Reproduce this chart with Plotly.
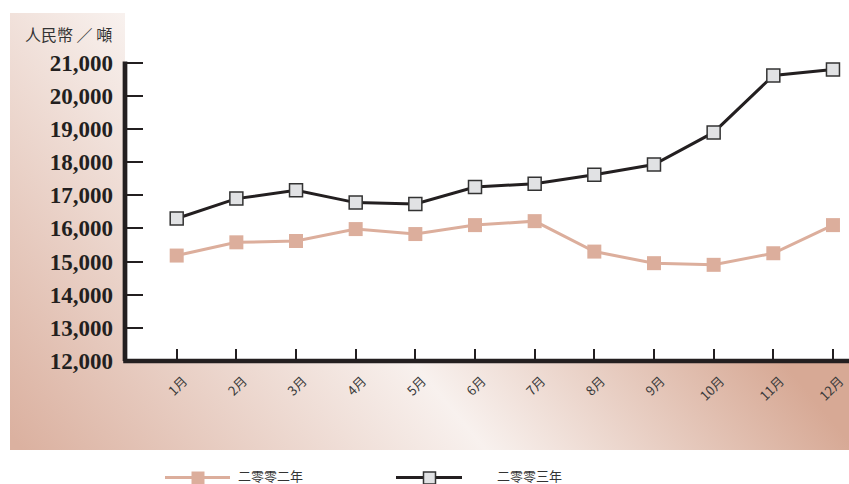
import base64
import plotly.graph_objects as go

months = ["1月", "2月", "3月", "4月", "5月", "6月", "7月", "8月", "9月", "10月", "11月", "12月"]
series_2002_name = "二零零二年"
series_2003_name = "二零零三年"
values_2002 = [15180, 15580, 15620, 15980, 15830, 16100, 16220, 15300, 14950, 14900, 15250, 16100]
values_2003 = [16300, 16900, 17150, 16780, 16740, 17250, 17350, 17620, 17930, 18900, 20620, 20800]
y_tick_values = [12000, 13000, 14000, 15000, 16000, 17000, 18000, 19000, 20000, 21000]
y_tick_labels = ["12,000", "13,000", "14,000", "15,000", "16,000", "17,000", "18,000", "19,000", "20,000", "21,000"]
y_title = "人民幣 ／ 噸"

PINK = "#dcae9c"
DARK = "#231f20"
GREY = "#e1e2e4"

W, H = 849, 484
L, B, T, R = 125, 123, 0, 0
PW, PH = W - L - R, H - B - T


def px(xp):
    return (xp - L) / PW


def py(yp):
    return (H - B - yp) / PH


# gradient panel as svg
svg = (
    '<svg xmlns="http://www.w3.org/2000/svg" width="839" height="437" viewBox="0 0 839 437" preserveAspectRatio="none">'
    '<defs><linearGradient id="g" gradientUnits="userSpaceOnUse" x1="-218" y1="160" x2="275" y2="-250">'
    '<stop offset="0" stop-color="#dbb1a0"/>'
    '<stop offset="0.556" stop-color="#f8f1ee"/>'
    '<stop offset="1" stop-color="#d7a995"/>'
    '</linearGradient></defs>'
    '<rect x="0" y="0" width="839" height="437" fill="url(#g)"/></svg>'
)
src = "data:image/svg+xml;base64," + base64.b64encode(svg.encode()).decode()

fig = go.Figure()
fig.add_trace(go.Scatter(
    x=months, y=values_2002, name=series_2002_name, mode="lines+markers",
    line=dict(color=PINK, width=3),
    marker=dict(symbol="square", size=14, color=PINK, line=dict(width=0)),
))
fig.add_trace(go.Scatter(
    x=months, y=values_2003, name=series_2003_name, mode="lines+markers",
    line=dict(color=DARK, width=3),
    marker=dict(symbol="square", size=13, color=GREY, line=dict(width=1.5, color="#333333")),
))

fig.add_layout_image(dict(
    source=src, xref="paper", yref="paper",
    x=px(10), y=py(13), sizex=839 / PW, sizey=437 / PH,
    xanchor="left", yanchor="top", sizing="stretch", layer="below",
))

shapes = [
    dict(type="rect", xref="paper", yref="paper", x0=0, x1=1.01, y0=0, y1=1.01,
         fillcolor="white", line=dict(width=0), layer="below"),
    dict(type="line", xref="paper", yref="paper", x0=px(123.2), x1=1.0, y0=0, y1=0,
         line=dict(color=DARK, width=4.7), layer="above"),
    dict(type="line", xref="paper", yref="y", x0=0, x1=0, y0=11928, y1=21040,
         line=dict(color=DARK, width=4.7), layer="above"),
    # legend samples
    dict(type="line", xref="paper", yref="paper", x0=px(165), x1=px(230), y0=py(477.5), y1=py(477.5),
         line=dict(color=PINK, width=3), layer="above"),
    dict(type="rect", xref="paper", yref="paper", xsizemode="pixel", ysizemode="pixel",
         xanchor=px(198), yanchor=py(478), x0=-6.5, x1=6.5, y0=-6.5, y1=6.5,
         fillcolor=PINK, line=dict(width=0), layer="above"),
    dict(type="line", xref="paper", yref="paper", x0=px(396), x1=px(462), y0=py(477.5), y1=py(477.5),
         line=dict(color=DARK, width=3), layer="above"),
    dict(type="rect", xref="paper", yref="paper", xsizemode="pixel", ysizemode="pixel",
         xanchor=px(429.5), yanchor=py(478), x0=-6, x1=6, y0=-6, y1=6,
         fillcolor=GREY, line=dict(width=1.5, color="#333333"), layer="above"),
]

annotations = [
    dict(text=y_title, xref="paper", yref="paper", x=px(113), y=py(34), xanchor="right", yanchor="middle",
         showarrow=False, borderpad=0, font=dict(family="Noto Sans CJK TC", size=16, color="#333333")),
    dict(text=series_2002_name, xref="paper", yref="paper", x=px(237), y=py(475.5), xanchor="left", yanchor="middle",
         showarrow=False, borderpad=0, font=dict(family="Noto Sans CJK TC", size=13, color="#333333")),
    dict(text=series_2003_name, xref="paper", yref="paper", x=px(496), y=py(475.5), xanchor="left", yanchor="middle",
         showarrow=False, borderpad=0, font=dict(family="Noto Sans CJK TC", size=13, color="#333333")),
]

fig.update_layout(
    width=W, height=H,
    margin=dict(l=L, r=R, t=T, b=B, pad=0),
    paper_bgcolor="white", plot_bgcolor="white",
    showlegend=False,
    shapes=shapes, annotations=annotations,
)
fig.update_xaxes(
    type="category", range=[-0.8665, 11.2687],
    showgrid=False, zeroline=False, showline=False,
    ticks="inside", ticklen=12, tickwidth=1.5, tickcolor=DARK,
    tickangle=-45, ticklabelshift=7, ticklabelstandoff=9,
    tickfont=dict(family="Noto Sans CJK TC", size=13, color="#3a3a3a"),
)
fig.update_yaxes(
    range=[11995, 22900],
    tickvals=y_tick_values, ticktext=y_tick_labels,
    showgrid=False, zeroline=False, showline=False,
    ticks="inside", ticklen=18, tickwidth=2, tickcolor=DARK,
    ticklabelstandoff=11,
    tickfont=dict(family="Liberation Serif", size=23, color=DARK, weight="bold"),
)

fig.write_html(
    "out.html",
    config={"displayModeBar": False},
    post_script="document.body.style.margin='0';document.body.style.overflow='hidden';",
)
